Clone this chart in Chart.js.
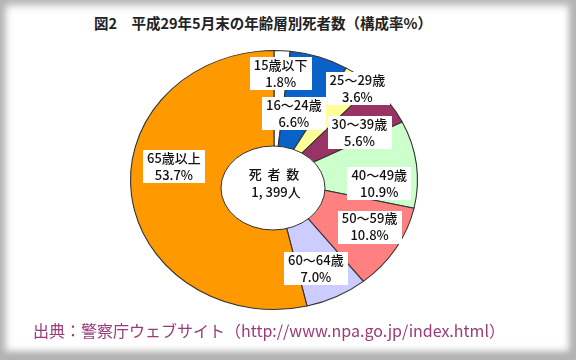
<!DOCTYPE html>
<html>
<head>
<meta charset="utf-8">
<script src="https://cdn.jsdelivr.net/npm/chart.js@4.4.1/dist/chart.umd.min.js"></script>
<style>
  body { margin: 0; background: #fff; }
  #frame {
    position: relative; width: 576px; height: 360px; background: #fff; overflow: hidden;
    box-shadow: inset 0 0 9px 5px #b4b4b4, inset -2px -5px 8px 2px #a4a4a4;
    font-family: "Noto Sans CJK JP", sans-serif;
  }
  #title {
    position: absolute; left: 0; top: 12px; width: 526px; text-align: center;
    font-size: 14.5px; font-weight: bold; color: #222;
  }
  #source {
    position: absolute; left: 33px; top: 318px; font-size: 16px; color: #9b3a78;
    white-space: nowrap;
  }
  canvas { position: absolute; left: 0; top: 0; }
</style>
</head>
<body>
<div id="frame">
  <div id="title">図2　平成29年5月末の年齢層別死者数（構成率%）</div>
  <canvas id="chart" width="576" height="360"></canvas>
  <div id="source">出典：警察庁ウェブサイト（http://www.npa.go.jp/index.html）</div>
</div>
<script>
// age groups and share of deaths (%)
const ageGroups = ["15歳以下", "16～24歳", "25～29歳", "30～39歳", "40～49歳", "50～59歳", "60～64歳", "65歳以上"];
const shares = [1.8, 6.6, 3.6, 5.6, 10.9, 10.8, 7.0, 53.7];
const totalLabel = ["死  者  数", "1, 399人"];

const sliceColors = ["#ffffff", "#0a62c8", "#ffff99", "#993366", "#ccffcc", "#ff8080", "#ccccff", "#ff9900"];

// label placement: radius fraction and angle nudge (deg) from slice middle
const labelRadius = [0.824, 0.536, 0.919, 0.703, 0.734, 0.757, 0.74, 0.706];
const labelNudge = [0, -3.4, 2.5, 4.6, 8.8, -3.7, 2.7, 15.5];

// the original pie is a little wider than tall
const stretchX = 1.108;

const ovalPlugin = {
  id: "oval",
  beforeDatasetsDraw(chart) {
    const arc = chart.getDatasetMeta(0).data[0];
    const ctx = chart.ctx;
    ctx.save();
    ctx.translate(arc.x, arc.y);
    ctx.scale(stretchX, 1);
    ctx.translate(-arc.x, -arc.y);
  },
  afterDatasetsDraw(chart) {
    const ctx = chart.ctx;
    ctx.restore();
    const meta = chart.getDatasetMeta(0);
    const cx = meta.data[0].x, cy = meta.data[0].y;

    //centre hole
    ctx.save();
    ctx.beginPath();
    ctx.ellipse(cx - 1, cy + 8, 52, 42, 0, 0, Math.PI * 2);
    ctx.fillStyle = "#fff";
    ctx.fill();
    ctx.lineWidth = 1;
    ctx.strokeStyle = "#333";
    ctx.stroke();

    ctx.fillStyle = "#111";
    ctx.textAlign = "center";
    ctx.textBaseline = "middle";
    ctx.font = "500 13px 'Noto Sans CJK JP'";
    ctx.fillText(totalLabel[0], cx, cy - 6);
    ctx.fillText(totalLabel[1], cx + 2, cy + 12);

    //slice labels
    ctx.font = "500 13px 'Noto Sans CJK JP'";
    meta.data.forEach(function (arc, i) {
      const mid = (arc.startAngle + arc.endAngle) / 2 + labelNudge[i] * Math.PI / 180;
      const r = arc.outerRadius * labelRadius[i];
      const x = cx + Math.cos(mid) * r * stretchX;
      const y = cy + Math.sin(mid) * r;
      const line2 = shares[i].toFixed(1) + "%";
      const w = Math.max(ctx.measureText(ageGroups[i]).width, ctx.measureText(line2).width) + 8;
      ctx.fillStyle = "#fff";
      ctx.fillRect(Math.round(x - w / 2), Math.round(y - 16), Math.round(w), 33);
      ctx.fillStyle = "#111";
      ctx.fillText(ageGroups[i], x, y - 8);
      ctx.fillText(line2, x, y + 9);
    });
    ctx.restore();
  }
};

let ctx = document.getElementById("chart").getContext("2d");
let chart = new Chart(ctx, {
  type: "pie",
  data: {
    labels: ageGroups,
    datasets: [{
      data: shares,
      backgroundColor: sliceColors,
      borderColor: "#333",
      borderWidth: 1
    }]
  },
  options: {
    responsive: false,
    animation: false,
    layout: { padding: { top: 50, bottom: 50, left: 144, right: 172 } },
    plugins: {
      legend: { display: false },
      tooltip: { enabled: false }
    }
  },
  plugins: [ovalPlugin]
});
</script>
</body>
</html>
